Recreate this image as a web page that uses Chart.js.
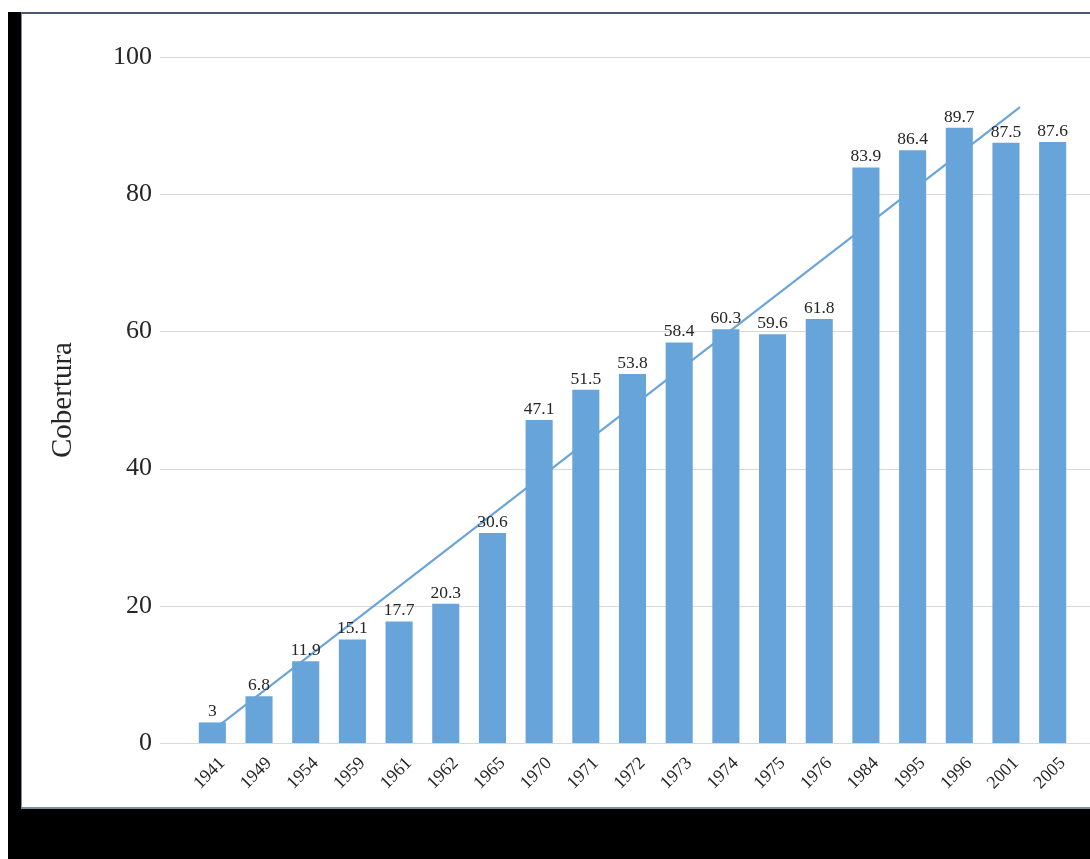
<!DOCTYPE html>
<html>
<head>
<meta charset="utf-8">
<script src="https://cdn.jsdelivr.net/npm/chart.js@4/dist/chart.umd.min.js"></script>
<style>
  html, body { margin: 0; padding: 0; background: #ffffff; width: 1090px; height: 859px; overflow: hidden; position: relative; }
  #black { position: absolute; left: 8px; top: 12px; width: 1082px; height: 847px; background: #000; }
  #panel { position: absolute; left: 21px; top: 12px; width: 1069px; height: 797px; background: #fff;
           border-top: 2px solid #4a5870; border-left: 1px solid #7f8fa3; border-bottom: 2px solid #7f8fa3; box-sizing: border-box; overflow: hidden; }
  #wrap { position: absolute; left: 0; top: 0; width: 1068px; height: 793px; }
</style>
</head>
<body>
<div id="black"></div>
<div id="panel"><div id="wrap"><canvas id="c"></canvas></div></div>
<script>
const years = ['1941','1949','1954','1959','1961','1962','1965','1970','1971','1972','1973','1974','1975','1976','1984','1995','1996','2001','2005'];
const cobertura = [3, 6.8, 11.9, 15.1, 17.7, 20.3, 30.6, 47.1, 51.5, 53.8, 58.4, 60.3, 59.6, 61.8, 83.9, 86.4, 89.7, 87.5, 87.6];
const trendX = [0, 17.3];
const trendY = [1.8, 92.7];
const yTicks = [0, 20, 40, 60, 80, 100];
const axisTitle = 'Cobertura';

const FONT = "'Liberation Serif', 'DejaVu Serif', serif";
const TEXT = '#262626';
const BAR = '#67a4d9';
const LINE = '#69a5db';

const gridPlugin = {
  id: 'fullGrid',
  beforeDatasetsDraw(chart) {
    const ctx = chart.ctx, y = chart.scales.y;
    ctx.save();
    ctx.strokeStyle = '#d9d9d9';
    ctx.lineWidth = 1;
    yTicks.forEach(v => {
      const py = Math.round(y.getPixelForValue(v)) + 0.5;
      ctx.beginPath();
      ctx.moveTo(138, py);
      ctx.lineTo(chart.width, py);
      ctx.stroke();
    });
    ctx.restore();
  }
};

const labelPlugin = {
  id: 'barLabels',
  afterDatasetsDraw(chart) {
    const ctx = chart.ctx;
    const meta = chart.getDatasetMeta(0);
    ctx.save();
    ctx.font = "17.5px " + FONT;
    ctx.fillStyle = TEXT;
    ctx.textAlign = 'center';
    ctx.textBaseline = 'bottom';
    meta.data.forEach((el, i) => {
      ctx.fillText(String(cobertura[i]), el.x, el.y - 2);
    });
    ctx.restore();
  }
};

const trendData = trendX.map((x, i) => ({ x: x, y: trendY[i] }));

new Chart(document.getElementById('c'), {
  type: 'bar',
  data: {
    labels: years,
    datasets: [
      { type: 'bar', data: cobertura, backgroundColor: BAR, borderWidth: 0, grouped: false,
        categoryPercentage: 1, barPercentage: 0.58, order: 1, xAxisID: 'x', yAxisID: 'y' },
      { type: 'line', data: trendData, borderColor: LINE, borderWidth: 2.2, pointRadius: 0,
        fill: false, tension: 0, order: 2, xAxisID: 'xt', yAxisID: 'y' }
    ]
  },
  options: {
    responsive: true,
    maintainAspectRatio: false,
    animation: false,
    layout: { padding: { left: 0, top: 43, right: 14, bottom: 0 } },
    plugins: { legend: { display: false }, tooltip: { enabled: false } },
    scales: {
      x: {
        type: 'category',
        offset: true,
        grid: { display: false, drawTicks: false },
        border: { display: false },
        ticks: { color: TEXT, font: { family: FONT, size: 18 }, minRotation: 45, maxRotation: 45,
                 padding: 10, labelOffset: 10, autoSkip: false },
        afterFit(s) { s.height = 64; s.paddingLeft = 0; s.paddingRight = 0; }
      },
      xt: { type: 'linear', min: -0.5, max: 18.5, display: false, offset: false },
      y: {
        min: 0, max: 100,
        afterBuildTicks(s) { s.ticks = yTicks.map(v => ({ value: v })); },
        grid: { display: false, drawTicks: false },
        border: { display: false },
        ticks: { color: TEXT, font: { family: FONT, size: 26 }, padding: 37 },
        title: { display: true, text: axisTitle, color: TEXT, font: { family: FONT, size: 29 }, padding: { top: 24, bottom: 0 } },
        afterFit(s) { s.width = 167; s.paddingTop = 0; s.paddingBottom = 0; }
      }
    }
  },
  plugins: [gridPlugin, labelPlugin]
});
</script>
</body>
</html>
